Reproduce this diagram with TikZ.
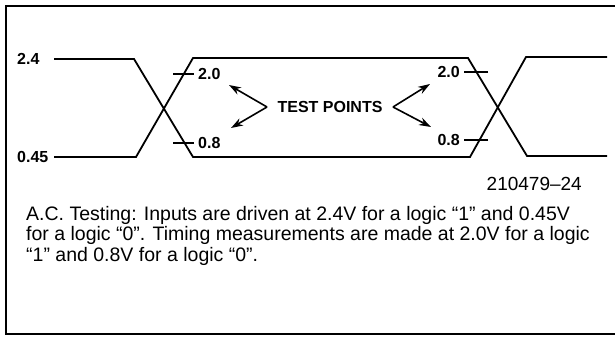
\documentclass[tikz,border=0pt]{standalone}
\usepackage{fontspec}
\setmainfont{Liberation Sans}
\usetikzlibrary{arrows.meta}
\begin{document}
\begin{tikzpicture}[x=1pt,y=-1pt,
  wave/.style={line width=1.8pt, line join=miter},
  tickmark/.style={line width=1.5pt},
  lbl/.style={font=\fontsize{16}{16}\selectfont\bfseries, inner sep=0pt},
  ptr/.style={line width=1.6pt, -{Stealth[length=12pt,width=8pt]}},
  framing/.style={line width=1.8pt}]
\useasboundingbox (0,0) rectangle (615,339);
% frame
\draw[framing] (616,6) -- (6,6) -- (6,334) -- (616,334);
% waveform coordinates
\coordinate (a1) at (54,59);
\coordinate (a2) at (134,59);
\coordinate (a3) at (193,157);
\coordinate (a4) at (470,157);
\coordinate (a5) at (526,57);
\coordinate (a6) at (607,57);
\coordinate (b1) at (54,157);
\coordinate (b2) at (136,157);
\coordinate (b3) at (193,58);
\coordinate (b4) at (468,58);
\coordinate (b5) at (527,156);
\coordinate (b6) at (607,156);
\draw[wave] (a1) -- (a2) -- (a3) -- (a4) -- (a5) -- (a6);
\draw[wave] (b1) -- (b2) -- (b3) -- (b4) -- (b5) -- (b6);
% level labels
\node[lbl,anchor=west] (v24) at (17,59) {2.4};
\node[lbl,anchor=west] (v045) at (17,157) {0.45};
% test point labels and ticks
\node[lbl,anchor=west] (la) at (198,74) {2.0};
\node[lbl,anchor=west] (lb) at (198,143) {0.8};
\node[lbl,anchor=east] (ra) at (460,72) {2.0};
\node[lbl,anchor=east] (rb) at (460,140) {0.8};
\coordinate (tla) at (173,74);
\coordinate (tlb) at (173,143);
\coordinate (tra) at (488,72);
\coordinate (trb) at (488,140);
\draw[tickmark] (tla) -- ([xshift=-4pt]la.west);
\draw[tickmark] (tlb) -- ([xshift=-4pt]lb.west);
\draw[tickmark] (tra) -- ([xshift=4pt]ra.east);
\draw[tickmark] (trb) -- ([xshift=4pt]rb.east);
% TEST POINTS
\node[lbl] (tp) at (330,107) {TEST POINTS};
\coordinate (jl) at (267,107);
\coordinate (jr) at (393,107);
\coordinate (pla) at (229,85);
\coordinate (plb) at (231,128);
\coordinate (pra) at (430,84);
\coordinate (prb) at (431,127);
\draw[ptr] (jl) -- (pla);
\draw[ptr] (jl) -- (plb);
\draw[ptr] (jr) -- (pra);
\draw[ptr] (jr) -- (prb);
% figure number
\node[font=\fontsize{19}{19}\selectfont, anchor=east, inner sep=0pt] (fig) at (582,184) {210479--24};
% note
\node[anchor=north west, inner sep=0pt, align=left, font=\fontsize{19.5}{20.5}\selectfont] (note) at (26,206)
  {A.C. Testing: Inputs are driven at 2.4V for a logic “1” and 0.45V\\
   for a logic “0”. Timing measurements are made at 2.0V for a logic\\
   “1” and 0.8V for a logic “0”.};
\end{tikzpicture}
\end{document}
